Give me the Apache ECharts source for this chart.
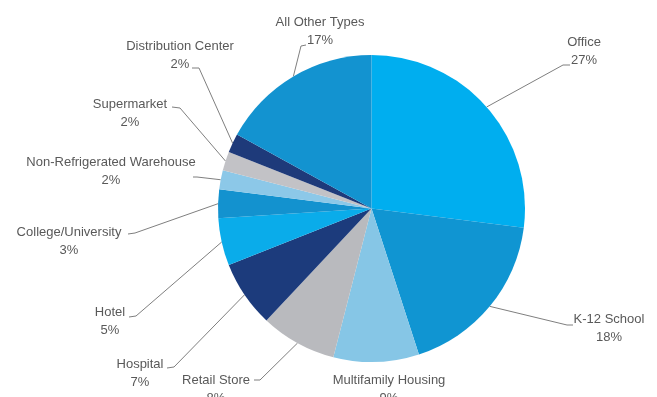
<!DOCTYPE html>
<html>
<head>
<meta charset="utf-8">
<script src="https://cdn.jsdelivr.net/npm/echarts@6/dist/echarts.min.js"></script>
<style>
  html, body { margin: 0; padding: 0; background: #ffffff; }
  #chart { width: 657px; height: 397px; }
</style>
</head>
<body>
<div id="chart"></div>
<script>
// Building types, clockwise from 12 o'clock
const categories = [
  'Office', 'K-12 School', 'Multifamily Housing', 'Retail Store', 'Hospital',
  'Hotel', 'College/University', 'Non-Refrigerated Warehouse', 'Supermarket',
  'Distribution Center', 'All Other Types'
];
// Share of floor area, percent
const shares = [27, 18, 9, 8, 7, 5, 3, 2, 2, 2, 17];

const sliceColors = [
  '#00aeef', '#1095d2', '#86c6e6', '#b9babe', '#1c3b7c',
  '#0aacea', '#1392cf', '#8cc8e8', '#c2c2c6', '#1e3a7a', '#1393d0'
];

// Label block centre, then leader-line elbow and end next to the text
const labelPlacement = [
  { at: [584, 51],  elbow: [563, 65],  end: [570, 65] },
  { at: [609, 328], elbow: [567, 325], end: [573, 325] },
  { at: [389, 389], elbow: null,       end: null },
  { at: [216, 389], elbow: [260, 380], end: [254, 380] },
  { at: [140, 373], elbow: [174, 367], end: [167, 368] },
  { at: [110, 321], elbow: [136, 316], end: [129, 317] },
  { at: [69, 241],  elbow: [135, 233], end: [128, 234] },
  { at: [111, 171], elbow: [197, 177], end: [193, 177] },
  { at: [130, 113], elbow: [180, 108], end: [172, 107] },
  { at: [180, 55],  elbow: [199, 68],  end: [192, 68] },
  { at: [320, 31],  elbow: [301, 46],  end: [306, 45] }
];

const PIE_CENTER = [371.5, 208.5];
const PIE_RADIUS = 153.5;

// Point on the rim at the middle of slice i (clockwise from top)
function rimPoint(i) {
  const total = shares.reduce((a, b) => a + b, 0);
  let before = 0;
  for (let k = 0; k < i; k++) before += shares[k];
  const mid = (before + shares[i] / 2) / total * Math.PI * 2;
  return [PIE_CENTER[0] + PIE_RADIUS * Math.sin(mid), PIE_CENTER[1] - PIE_RADIUS * Math.cos(mid)];
}

const chart = echarts.init(document.getElementById('chart'), null, { renderer: 'canvas' });

chart.setOption({
  backgroundColor: '#ffffff',
  animation: false,
  series: [{
    type: 'pie',
    center: PIE_CENTER,
    radius: PIE_RADIUS,
    startAngle: 90,
    clockwise: true,
    data: categories.map((name, i) => ({
      name: name,
      value: shares[i],
      itemStyle: { color: sliceColors[i] },
      labelLine: { show: labelPlacement[i].end !== null }
    })),
    label: {
      show: true,
      position: 'outside',
      formatter: '{b}\n{c}%',
      color: '#595959',
      fontFamily: '"Liberation Sans", Arial, sans-serif',
      fontSize: 13,
      lineHeight: 18,
      align: 'center'
    },
    labelLine: {
      show: true,
      length: 10,
      length2: 10,
      smooth: false,
      lineStyle: { color: '#7f7f7f', width: 1 }
    },
    labelLayout: function (params) {
      const p = labelPlacement[params.dataIndex];
      const out = {
        x: p.at[0],
        y: p.at[1],
        align: 'center',
        verticalAlign: 'middle',
        hideOverlap: false,
        moveOverlap: null
      };
      if (p.end) {
        out.labelLinePoints = [rimPoint(params.dataIndex), p.elbow, p.end];
      }
      return out;
    },
    emphasis: { disabled: true }
  }]
});
</script>
</body>
</html>
